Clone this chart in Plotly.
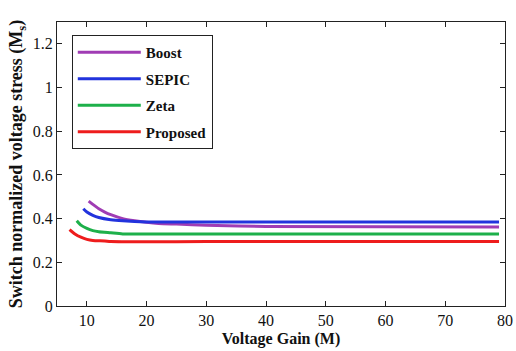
import plotly.graph_objects as go

boost_x = [10.3, 11, 12, 13, 14, 16, 18, 20, 22, 25, 30, 40, 79]
boost_y = [0.48, 0.465, 0.445, 0.43, 0.418, 0.40, 0.39, 0.383, 0.378, 0.375, 0.37, 0.364, 0.362]
sepic_x = [9.4, 10, 11, 12, 14, 16, 20, 30, 79]
sepic_y = [0.445, 0.43, 0.415, 0.405, 0.395, 0.39, 0.385, 0.384, 0.384]
zeta_x = [8.3, 9, 10, 11, 12, 14, 16, 30, 79]
zeta_y = [0.39, 0.37, 0.355, 0.345, 0.34, 0.335, 0.33, 0.33, 0.33]
prop_x = [7.1, 8, 9, 10, 11, 13, 14, 30, 79]
prop_y = [0.35, 0.33, 0.315, 0.305, 0.30, 0.298, 0.295, 0.295, 0.295]

series = [
    ("Boost", boost_x, boost_y, "#A03CB4"),
    ("SEPIC", sepic_x, sepic_y, "#2233DD"),
    ("Zeta", zeta_x, zeta_y, "#1DB04A"),
    ("Proposed", prop_x, prop_y, "#EE1C1C"),
]

fig = go.Figure()
for name, xs, ys, c in series:
    fig.add_trace(go.Scatter(x=xs, y=ys, mode="lines", name="<b>" + name + "</b>",
                             line=dict(color=c, width=3, shape="spline", smoothing=0.6),
                             legendgroup=name))

font = "Liberation Serif"
axis_common = dict(showline=True, linecolor="#222", linewidth=1, mirror="ticks",
                   ticks="inside", ticklen=5, tickcolor="#222", showgrid=False,
                   zeroline=False, automargin=False,
                   tickfont=dict(family=font, size=16, color="#111"))
fig.update_layout(
    width=516, height=351,
    margin=dict(l=57, r=11, t=22, b=45),
    paper_bgcolor="white", plot_bgcolor="white",
    xaxis=dict(range=[5, 80], tickvals=[10, 20, 30, 40, 50, 60, 70, 80],
               title=dict(text="<b>Voltage Gain (M)</b>", font=dict(family=font, size=16, color="#111"), standoff=4),
               **axis_common),
    yaxis=dict(range=[0, 1.3], tickvals=[0, 0.2, 0.4, 0.6, 0.8, 1, 1.2],
               ticktext=["0", "0.2", "0.4", "0.6", "0.8", "1", "1.2"],
               title=dict(text="<b>Switch normalized voltage stress (M<sub>s</sub>)</b>", font=dict(family=font, size=18, color="#111"), standoff=5),
               **axis_common),
    legend=dict(x=0.033, y=0.954, xanchor="left", yanchor="top",
                bordercolor="#222", borderwidth=1, bgcolor="white",
                font=dict(family=font, size=15, color="#111"),
                traceorder="grouped", tracegroupgap=4, itemwidth=63),
    showlegend=True,
)
fig.write_html("out.html")
